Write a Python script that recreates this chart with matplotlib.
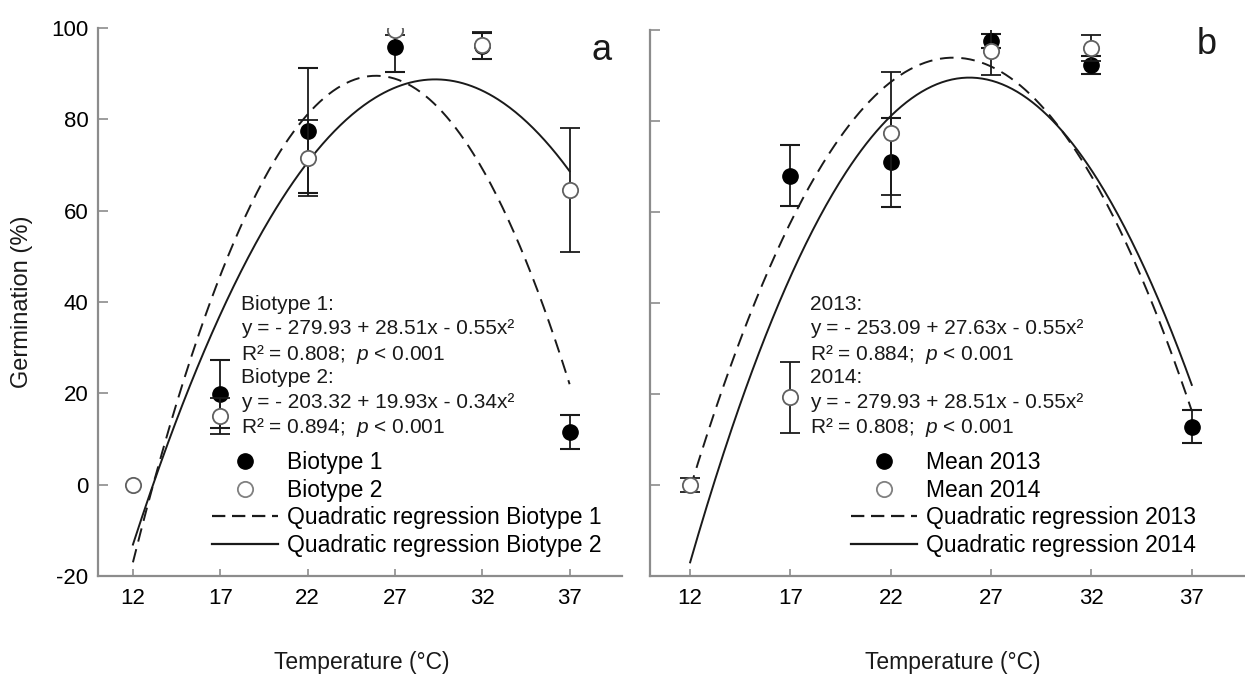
import numpy as np
import matplotlib.pyplot as plt
from matplotlib.lines import Line2D

plt.rcParams['font.family'] = ['Liberation Sans', 'DejaVu Sans']
plt.rcParams['mathtext.fontset'] = 'custom'
plt.rcParams['mathtext.rm'] = 'Liberation Sans'
plt.rcParams['mathtext.it'] = 'Liberation Sans:italic'
plt.rcParams['axes.unicode_minus'] = False

W, H = 1245, 675

temps = [12, 17, 22, 27, 32, 37]

# panel a: germination means and error bars
bio1_mean = [np.nan, 19.8, 77.5, 95.8, 96.0, 11.5]
bio1_err = [np.nan, 7.5, 13.7, 5.5, 2.8, 3.7]
bio2_mean = [0.0, 15.0, 71.5, 99.5, 96.2, 64.6]
bio2_err = [np.nan, 4.0, 8.3, 1.0, 3.0, 13.6]

# panel b
y2013_mean = [np.nan, 68.0, 70.9, 97.6, 92.3, 12.8]
y2013_err = [np.nan, 6.7, 9.8, 1.5, 2.0, 3.6]
y2014_mean = [0.0, 19.3, 77.3, 95.3, 96.0, np.nan]
y2014_err = [1.5, 7.8, 13.5, 5.2, 2.9, np.nan]

# quadratic regression coefficients as printed (c0, c1, c2)
coef_bio1 = [-279.93, 28.51, -0.55]
coef_bio2 = [-203.32, 19.93, -0.34]
coef_2013 = [-253.09, 27.63, -0.55]
coef_2014 = [-279.93, 28.51, -0.55]

eq_a = ['Biotype 1:', 'y = - 279.93 + 28.51x - 0.55x²', 'R² = 0.808;  $p$ < 0.001',
        'Biotype 2:', 'y = - 203.32 + 19.93x - 0.34x²', 'R² = 0.894;  $p$ < 0.001']
eq_b = ['2013:', 'y = - 253.09 + 27.63x - 0.55x²', 'R² = 0.884;  $p$ < 0.001',
        '2014:', 'y = - 279.93 + 28.51x - 0.55x²', 'R² = 0.808;  $p$ < 0.001']
legend_a = ['Biotype 1', 'Biotype 2', 'Quadratic regression Biotype 1', 'Quadratic regression Biotype 2']
legend_b = ['Mean 2013', 'Mean 2014', 'Quadratic regression 2013', 'Quadratic regression 2014']

ink = '#1a1a1a'
axis_grey = '#8c8c8c'
open_edge = '#606060'

fig = plt.figure(figsize=(W / 100, H / 100), dpi=100)
ax_a = fig.add_axes([98 / W, 0.1467, 524 / W, 548 / H])
ax_b = fig.add_axes([650 / W, 0.1467, 602 / W, 546 / H])


def draw_panel(ax, m1, e1, m2, e2, c1, c2):
    xs = np.linspace(12, 37, 300)
    ax.plot(xs, np.polynomial.polynomial.polyval(xs, c1), color=ink, lw=1.4, dashes=(7, 4), zorder=2)
    ax.plot(xs, np.polynomial.polynomial.polyval(xs, c2), color=ink, lw=1.4, zorder=2)
    ax.errorbar(temps, m1, yerr=e1, fmt='o', ms=11, mfc='black', mec='black',
                ecolor=ink, elinewidth=1.3, capsize=7, capthick=1.5, zorder=3)
    ax.errorbar(temps, m2, yerr=e2, fmt='o', ms=11, mfc='white', mec=open_edge, mew=1.3,
                ecolor=ink, elinewidth=1.3, capsize=7, capthick=1.5, zorder=4)

    ax.set_xlim(10, 40)
    ax.set_ylim(-20, 100)
    ax.set_xticks(temps)
    ax.set_yticks(range(-20, 101, 20))
    for s in ['top', 'right']:
        ax.spines[s].set_visible(False)
    for s in ['left', 'bottom']:
        ax.spines[s].set_color(axis_grey)
        ax.spines[s].set_linewidth(1.6)
    ax.tick_params(direction='in', color=axis_grey, width=1.2, labelsize=16)
    ax.tick_params(axis='x', length=5, pad=9)
    ax.tick_params(axis='y', length=7, pad=7)


def add_legend(ax, labels, x0):
    handles = [
        Line2D([], [], ls='none', marker='o', ms=11, mfc='black', mec='black'),
        Line2D([], [], ls='none', marker='o', ms=11, mfc='white', mec='#808080', mew=1.3),
        Line2D([], [], color=ink, lw=1.6, dashes=(6, 3)),
        Line2D([], [], color=ink, lw=1.6),
    ]
    ax.legend(handles, labels, loc='upper left', bbox_to_anchor=(x0 / W, 1 - 451 / H),
              bbox_transform=fig.transFigure, frameon=False, fontsize=16.5,
              handlelength=2.9, handletextpad=0.36, labelspacing=0.2,
              borderpad=0, borderaxespad=0)


def add_equations(lines, x0):
    for i, line in enumerate(lines):
        fig.text(x0 / W, 1 - (302 + i * 24.5) / H, line, fontsize=15,
                 ha='left', va='center_baseline', color=ink)


draw_panel(ax_a, bio1_mean, bio1_err, bio2_mean, bio2_err, coef_bio1, coef_bio2)
draw_panel(ax_b, y2013_mean, y2013_err, y2014_mean, y2014_err, coef_2013, coef_2014)
ax_b.tick_params(axis='y', labelleft=False)

add_legend(ax_a, legend_a, 212)
add_legend(ax_b, legend_b, 851)
add_equations(eq_a, 241)
add_equations(eq_b, 810)

fig.text(22 / W, 1 - 302 / H, 'Germination (%)', rotation=90, fontsize=17,
         ha='center', va='center', color=ink)
fig.text(362 / W, 1 - 662 / H, 'Temperature (°C)', fontsize=16.5, ha='center', va='center', color=ink)
fig.text(953 / W, 1 - 662 / H, 'Temperature (°C)', fontsize=16.5, ha='center', va='center', color=ink)
fig.text(602 / W, 1 - 50 / H, 'a', fontsize=26, ha='center', va='center', color=ink)
fig.text(1207 / W, 1 - 45 / H, 'b', fontsize=26, ha='center', va='center', color=ink)

fig.savefig('out.png', dpi=100)
